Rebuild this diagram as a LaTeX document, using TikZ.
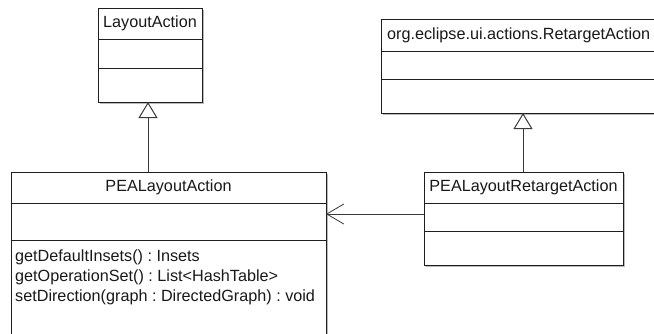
\documentclass[tikz,border=0pt]{standalone}
\usepackage{fontspec}
\setmainfont{Liberation Sans}
\usetikzlibrary{arrows.meta,calc,shadows}
\definecolor{edgeline}{HTML}{1E1E1E}
\definecolor{connline}{HTML}{3A3A3A}
\frenchspacing
\begin{document}
\begin{tikzpicture}[x=1bp,y=-1bp,
  classbox/.style={draw=edgeline,line width=1bp,fill=white,inner sep=0pt,outer sep=0pt,
    anchor=north west,drop shadow={shadow xshift=1.5bp,shadow yshift=-1.5bp,fill=black!45,opacity=0.6}},
  divider/.style={draw=edgeline,line width=1bp},
  label/.style={inner sep=0pt,font=\fontsize{16.2bp}{20bp}\selectfont,text=black!90},
  gen/.style={draw=connline,line width=1bp,-{Triangle[open,length=16bp,width=19bp,fill=white,line width=1bp]}},
  assoc/.style={draw=connline,line width=1bp,-{Straight Barb[length=17bp,width=20bp,line width=0.8bp]}}]
\useasboundingbox (0,0) rectangle (654,333);
\clip (0,0) rectangle (654,333);
\fill[white] (0,0) rectangle (654,333);

% LayoutAction
\node[classbox,minimum width=104bp,minimum height=94bp] (la) at (98,8) {};
\draw[divider] ($(la.north west)+(0,31)$) -- ($(la.north east)+(0,31)$);
\draw[divider] ($(la.north west)+(0,60)$) -- ($(la.north east)+(0,60)$);
\node[label] (la-t) at ($(la.north)+(0,15.5)$) {LayoutAction};

% org.eclipse.ui.actions.RetargetAction
\node[classbox,minimum width=285bp,minimum height=94bp] (rt) at (381,19) {};
\draw[divider] ($(rt.north west)+(0,32)$) -- ($(rt.north east)+(0,32)$);
\draw[divider] ($(rt.north west)+(0,60)$) -- ($(rt.north east)+(0,60)$);
\node[label,anchor=west] (rt-t) at ($(rt.north west)+(6,16)$) {org.eclipse.ui.actions.RetargetAction};

% PEALayoutAction
\node[classbox,minimum width=315bp,minimum height=180bp] (pea) at (11,172) {};
\draw[divider] ($(pea.north west)+(0,31)$) -- ($(pea.north east)+(0,31)$);
\draw[divider] ($(pea.north west)+(0,68)$) -- ($(pea.north east)+(0,68)$);
\node[label] (pea-t) at ($(pea.north)+(0,15.5)$) {PEALayoutAction};
\node[label,anchor=north west,align=left] (pea-m) at ($(pea.north west)+(4,78)$)
  {getDefaultInsets() : Insets\\getOperationSet() : List<HashTable>\\setDirection(graph : DirectedGraph) : void};

% PEALayoutRetargetAction
\node[classbox,minimum width=199bp,minimum height=93bp] (prt) at (424,172) {};
\draw[divider] ($(prt.north west)+(0,31)$) -- ($(prt.north east)+(0,31)$);
\draw[divider] ($(prt.north west)+(0,59)$) -- ($(prt.north east)+(0,59)$);
\node[label] (prt-t) at ($(prt.north)+(0,15.5)$) {PEALayoutRetargetAction};

% relations
\draw[gen] ($(la.south |- pea.north)+(-2,0)$) -- ($(la.south)+(-2,0)$);
\draw[gen] (prt.north -| 523,0) -- (rt.south -| 523,0);
\draw[assoc] ($(prt.north west)+(0,42)$) -- ($(pea.north east)+(0,42)$);
\end{tikzpicture}
\end{document}
